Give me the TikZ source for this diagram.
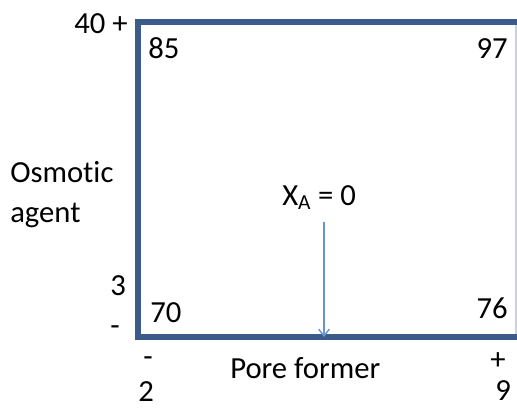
\documentclass[tikz,border=0pt]{standalone}
\usepackage{fontspec}
\setmainfont[Ligatures=NoCommon]{Carlito}
\usepackage{xcolor}
\usepackage{tikz}
\usetikzlibrary{arrows.meta}
\usetikzlibrary{positioning}
\definecolor{framecol}{HTML}{3B5B8A}
\definecolor{arrowcol}{HTML}{6B93CC}
\definecolor{edgecol}{HTML}{C9D2DE}

\begin{document}
\begin{tikzpicture}[x=0.75pt, y=-0.75pt,
        lbl/.style={inner sep=0pt, font=\fontsize{23}{28}\selectfont},
        frame/.style={line width=3.8pt, framecol, line join=miter}]
        \useasboundingbox (0,0) rectangle (517,407);
        % square of the design
        \draw[edgecol, line width=0.8pt] (516,22) -- (516,337);
        \draw[frame] (517,22) -- (138,22) -- (138,337) -- (517,337);
        % corner responses
        \node[lbl, anchor=base west] (c85) at (148,58) {85};
        \node[lbl, anchor=base east] (c97) at (508,58) {97};
        \node[lbl, anchor=base west] (c70) at (150,322) {70};
        \node[lbl, anchor=base east] (c76) at (508,318) {76};
        % osmotic agent levels
        \node[lbl, anchor=base east] (hiA) at (128,33) {40 +};
        \node[lbl, anchor=base west] (loA) at (110,295) {3};
        \node[lbl, anchor=base west] (loAs) at (110,335) {-};
        \node[lbl, anchor=base west] (osm) at (10,182) {Osmotic};
        \node[lbl, anchor=base west] (agt) at (10,222) {agent};
        % pore former levels
        \node[lbl, anchor=base west] (loBs) at (143,366) {-};
        \node[lbl, anchor=base west] (loB) at (138,401) {2};
        \node[lbl, anchor=base west] (hiBs) at (490,369) {+};
        \node[lbl, anchor=base west] (hiB) at (495,400) {9};
        \node[lbl, anchor=base west] (pore) at (230,378) {Pore former};
        % contour line
        \node[lbl, anchor=base west] (xa) at (282,205) {X\textsubscript{A} = 0};
        \coordinate (xtop) at (324,222);
        \coordinate (xend) at (324,337);
        \draw[arrowcol, line width=1.1pt, -{Straight Barb[length=5pt, width=8pt]}] (xtop) -- (xend);
    \end{tikzpicture}
\end{document}
